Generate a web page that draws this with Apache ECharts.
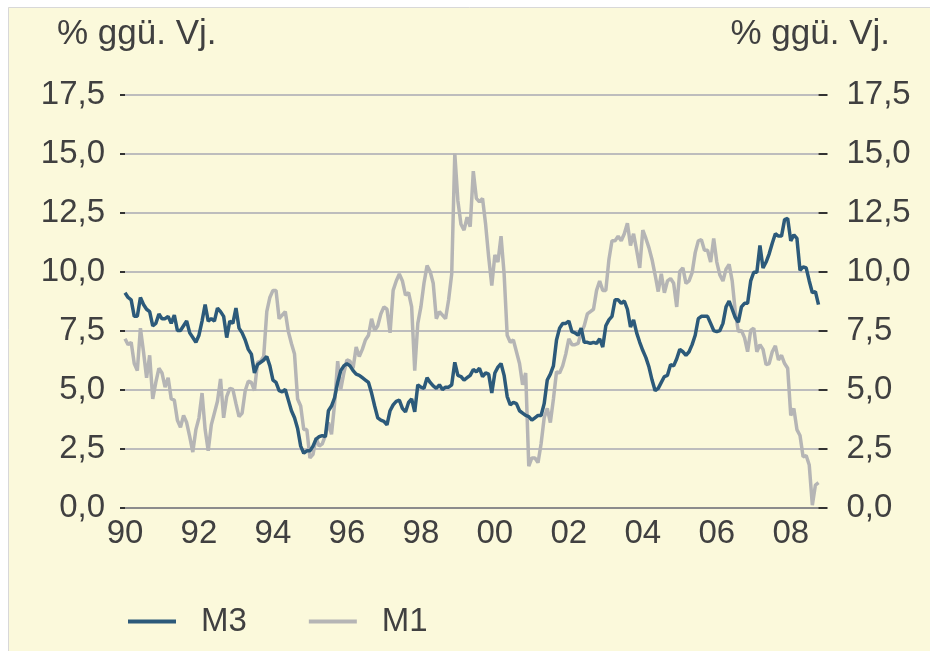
<!DOCTYPE html>
<html>
<head>
<meta charset="utf-8">
<script src="https://cdn.jsdelivr.net/npm/echarts@6/dist/echarts.min.js"></script>
<style>
  html, body { margin: 0; padding: 0; background: #ffffff; }
  #chart { width: 930px; height: 651px; }
</style>
</head>
<body>
<div id="chart"></div>
<script>
// monthly growth rates, Jan 1990 .. Oct 2008
const startYear = 1990;
const m3 = [
  9.1, 8.9, 8.8, 8.1, 8.1, 8.9, 8.6, 8.4, 8.3, 7.7,
  7.8, 8.2, 8.0, 8.0, 8.1, 7.8, 8.15, 7.5, 7.5, 7.7,
  7.9, 7.4, 7.2, 7.0, 7.3, 7.9, 8.6, 7.9, 8.0, 7.9,
  8.45, 8.3, 8.1, 7.2, 7.9, 7.8, 8.45, 7.6, 7.4, 7.1,
  6.7, 6.5, 5.7, 6.05, 6.15, 6.25, 6.4, 6.0, 5.4, 5.3,
  4.95, 4.9, 5.0, 4.55, 4.1, 3.8, 3.35, 2.6, 2.3, 2.4,
  2.4, 2.6, 2.9, 3.0, 3.05, 3.0, 4.1, 4.3, 4.65, 5.3,
  5.8, 6.0, 6.1, 6.0, 5.8, 5.65, 5.6, 5.5, 5.4, 5.3,
  4.85, 4.3, 3.8, 3.7, 3.65, 3.5, 4.1, 4.35, 4.5, 4.55,
  4.2, 4.05, 4.45, 4.6, 4.05, 5.2, 5.1, 5.05, 5.5, 5.3,
  5.15, 5.05, 5.2, 5.0, 5.1, 5.1, 5.2, 6.15, 5.6, 5.55,
  5.4, 5.5, 5.6, 5.85, 5.75, 5.9, 5.55, 5.7, 5.65, 4.85,
  5.7, 5.95, 6.1, 5.6, 4.7, 4.35, 4.45, 4.4, 4.1, 4.0,
  3.9, 3.85, 3.7, 3.8, 3.9, 3.9, 4.4, 5.4, 5.65, 6.0,
  7.1, 7.6, 7.8, 7.8, 7.9, 7.45, 7.4, 7.3, 7.6, 7.0,
  7.0, 6.95, 7.0, 6.95, 7.15, 6.8, 7.7, 7.95, 8.1, 8.8,
  8.8, 8.65, 8.75, 8.4, 7.65, 7.95, 7.4, 7.0, 6.65, 6.35,
  5.95, 5.4, 4.95, 5.05, 5.3, 5.55, 5.6, 6.05, 6.0, 6.3,
  6.7, 6.6, 6.45, 6.6, 6.9, 7.3, 8.0, 8.1, 8.1, 8.1,
  7.8, 7.5, 7.45, 7.5, 7.8, 8.5, 8.75, 8.4, 8.05, 7.85,
  8.5, 8.65, 8.65, 9.6, 9.97, 9.97, 11.1, 10.15, 10.4, 10.75,
  11.2, 11.6, 11.5, 11.5, 12.2, 12.25, 11.3, 11.55, 11.4, 10.05,
  10.2, 10.15, 9.6, 9.1, 9.15, 8.6
];
const m1 = [
  7.15, 6.9, 7.0, 6.1, 5.8, 7.6, 6.6, 5.5, 6.45, 4.6,
  5.3, 5.9, 5.7, 5.1, 5.5, 4.6, 4.55, 3.7, 3.4, 3.9,
  3.6, 3.0, 2.35, 3.3, 3.8, 4.85, 3.3, 2.4, 3.5, 4.0,
  4.5, 5.45, 3.8, 4.7, 5.05, 5.0, 4.4, 3.85, 4.0, 4.95,
  5.35, 5.3, 4.95, 6.15, 6.2, 6.4, 8.3, 8.9, 9.2, 9.2,
  8.0, 8.15, 8.3, 7.45, 6.95, 6.5, 4.6, 4.3, 3.3, 3.3,
  2.1, 2.25, 2.95, 2.6, 2.7, 3.05, 3.6, 3.1, 4.4, 6.2,
  5.0, 5.7, 6.25, 6.2, 5.9, 6.8, 6.4, 6.7, 7.1, 7.3,
  8.0, 7.5, 7.7, 8.2, 8.5, 8.4, 7.4, 9.2, 9.6, 9.9,
  9.6, 9.0, 9.1, 8.5, 5.8, 7.8, 8.5, 9.5, 10.25, 10.0,
  9.5, 8.0, 8.3, 8.15, 8.0, 8.8, 9.9, 15.0, 13.0, 12.0,
  11.75, 12.3, 11.9, 14.25, 13.1, 12.95, 13.1, 12.0, 10.6, 9.4,
  10.7, 10.4, 11.5, 9.9, 7.3, 7.0, 7.1, 6.6, 6.1, 5.2,
  5.7, 1.75, 2.1, 2.1, 1.9, 2.7, 3.8, 4.2, 3.6, 4.6,
  5.75, 5.7, 6.0, 6.5, 7.15, 6.9, 6.9, 6.95, 7.4, 7.7,
  8.2, 8.3, 8.4, 9.2, 9.6, 9.2, 9.2, 10.5, 11.3, 11.3,
  11.5, 11.3, 11.6, 12.05, 11.1, 11.6, 10.9, 10.15, 11.75, 11.4,
  11.0, 10.5, 9.85, 9.15, 9.9, 9.1, 9.6, 9.7, 9.5, 8.5,
  10.0, 10.15, 9.5, 9.6, 9.95, 10.8, 11.3, 11.35, 10.9, 10.9,
  10.4, 11.4, 10.4, 9.85, 9.6, 10.1, 10.3, 9.6, 8.3, 7.45,
  7.5, 7.2, 6.6, 7.5, 7.6, 6.6, 6.9, 6.7, 6.05, 6.1,
  6.6, 6.85, 6.25, 6.45, 6.1, 5.9, 3.9, 4.2, 3.3, 3.05,
  2.15, 2.2, 1.8, 0.1, 0.95, 1.05
];
const months = [];
for (let i = 0; i < m3.length; i++) {
  const y = startYear + Math.floor(i / 12);
  const m = (i % 12) + 1;
  months.push(y + '-' + (m < 10 ? '0' + m : m));
}
const unitLabel = '% ggü. Vj.';

const txt = '#404040';
const font = '"Liberation Sans", Arial, sans-serif';
const fmt = v => v.toFixed(1).replace('.', ',');

const chart = echarts.init(document.getElementById('chart'));
chart.setOption({
  backgroundColor: '#fbf9db',
  animation: false,
  textStyle: {fontFamily: font},
  graphic: [
    {type: 'rect', shape: {x: 0, y: 0, width: 930, height: 7}, style: {fill: '#ffffff'}, silent: true},
    {type: 'rect', shape: {x: 0, y: 0, width: 8, height: 651}, style: {fill: '#ffffff'}, silent: true},
    {type: 'polyline', shape: {points: [[8.5, 651], [8.5, 7.5], [930, 7.5]]}, style: {stroke: '#d8d8d8', lineWidth: 1, fill: null}, silent: true}
  ],
  title: [
    {text: unitLabel, left: 57, top: 17, padding: 0,
      textStyle: {fontSize: 35, fontWeight: 'normal', color: txt, fontFamily: font}},
    {text: unitLabel, right: 40, top: 17, padding: 0,
      textStyle: {fontSize: 35, fontWeight: 'normal', color: txt, fontFamily: font}}
  ],
  legend: {
    data: ['M3', 'M1'],
    left: 123,
    top: 600,
    icon: 'rect',
    itemWidth: 48,
    itemHeight: 4,
    itemGap: 62,
    textStyle: {fontSize: 33, color: txt, fontFamily: font, padding: [0, 0, 0, 20]}
  },
  grid: {left: 125, right: 111.5, top: 94.5, bottom: 143.5, containLabel: false},
  xAxis: {
    type: 'category',
    data: months,
    boundaryGap: false,
    axisLine: {lineStyle: {color: '#8c8c8c', width: 2}},
    axisTick: {show: false},
    splitLine: {show: false},
    axisLabel: {
      interval: (idx) => idx % 24 === 0,
      formatter: v => v.slice(2, 4),
      fontSize: 33,
      color: txt,
      margin: 10,
      fontFamily: font
    }
  },
  yAxis: [
    {
      type: 'value', min: 0, max: 17.5, interval: 2.5, position: 'left',
      axisLine: {show: false},
      axisTick: {show: true, length: 5, inside: false, lineStyle: {color: '#333', width: 2}},
      splitLine: {lineStyle: {color: '#bdbdbd', width: 2}},
      axisLabel: {formatter: fmt, fontSize: 33, color: txt, margin: 20, fontFamily: font}
    },
    {
      type: 'value', min: 0, max: 17.5, interval: 2.5, position: 'right',
      axisLine: {show: false},
      axisTick: {show: true, length: 9, inside: false, lineStyle: {color: '#333', width: 2}},
      splitLine: {show: false},
      axisLabel: {formatter: fmt, fontSize: 33, color: txt, margin: 28, fontFamily: font}
    }
  ],
  series: [
    {
      name: 'M1', type: 'line', data: m1, yAxisIndex: 1,
      showSymbol: false, symbol: 'none', z: 2,
      lineStyle: {color: '#b5b5b5', width: 3.5},
      itemStyle: {color: '#b5b5b5'}
    },
    {
      name: 'M3', type: 'line', data: m3, yAxisIndex: 0,
      showSymbol: false, symbol: 'none', z: 3,
      lineStyle: {color: '#2c5a7a', width: 3.5},
      itemStyle: {color: '#2c5a7a'}
    }
  ]
});
</script>
</body>
</html>
